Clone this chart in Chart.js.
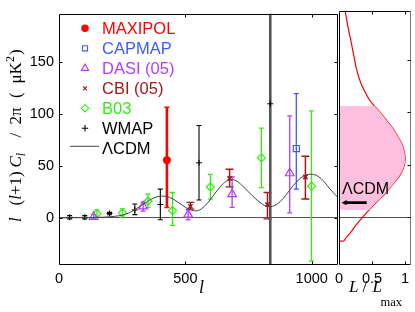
<!DOCTYPE html>
<html><head><meta charset="utf-8">
<script src="https://cdn.jsdelivr.net/npm/chart.js@4.4.1/dist/chart.umd.min.js"></script>
<style>
html,body{margin:0;padding:0;background:#fff;}
#wrap{position:relative;width:415px;height:312px;}
canvas{position:absolute;left:0;top:0;}
</style></head><body>
<div id="wrap"><canvas id="main" width="415" height="312"></canvas><canvas id="side" width="415" height="312"></canvas></div>
<script>
// ---------- data ----------
const xTicks = [0, 500, 1000];
const yTicks = [0, 50, 100, 150];
const lTicks = [0, 0.5, 1];
const xMax = 1104, yMin = -45.4, yMax = 196.5, lMax = 1.09;

const lcdmL = [0,50,100,150,200,225,250,275,300,325,350,375,400,425,450,475,500,525,550,575,600,625,650,675,700,725,750,775,800,825,850,875,900,925,950,975,1000,1025,1050,1075,1104];
const lcdmY = [0,0.1,0.2,0.4,1.0,1.6,2.6,4.6,7.8,11.8,15.8,19.2,20.8,20.6,18.3,14.3,10.2,7.3,7.0,11.0,18.0,26.0,33.0,36.5,35.8,31.0,25.0,19.0,14.0,11.0,11.5,15.5,22.5,30.5,37.0,41.0,42.0,40.0,34.5,27.0,19.5];

const maxipolL = [427], maxipolY = [55.5], maxipolLo = [10], maxipolHi = [106.5];
const capmapL = [939], capmapY = [66.7], capmapLo = [27.6], capmapHi = [119.6];
const dasiL = [137,333,511,685,913], dasiY = [1,11,3.1,22.8,42.9];
const dasiLo = [-1,6.5,-1.9,10.1,4.8], dasiHi = [3,15,7.6,39.3,98.1];
const cbiL = [520,675,825,975], cbiY = [11,38,12.7,39.3];
const cbiLo = [8.4,29.8,-1,18.1], cbiHi = [14.9,46.7,24.4,59.3];
const b03L = [150,251,352,449,599,801,999], b03Y = [4,4.8,16,7,29.8,57.7,30.5];
const b03Lo = [0.6,0.6,9.8,-7.3,18.1,29.1,-41.6], b03Hi = [7.6,8.6,22.9,24.4,41.9,86.3,102.9];
const wmapL = [42,102,200,300,401,554,836], wmapY = [0.6,0.6,4.2,7.6,12.8,53,109.8];
const wmapLo = [-1,-1,3,3.1,-1.9,17.1,-300], wmapHi = [2.2,2.2,5.3,13.3,27.6,88.9,400];

// likelihood of the EE amplitude (right panel)
const likeY = [-22.5,-22.5,-20,-14,-8,-2,4,10,16,22,28,34,40,46,54,62,70,78,86,94,101,106,112,120,128,140,151,165,180,196.5];
const likeL = [0,0.07,0.1,0.18,0.25,0.33,0.41,0.5,0.59,0.69,0.77,0.85,0.92,0.97,1.0,0.99,0.95,0.88,0.8,0.7,0.61,0.535,0.46,0.39,0.33];
likeL.push(0.27,0.233,0.19,0.14,0.093);
const pinkY = [7,10,16,22,28,34,40,46,54,62,70,78,86,94,101,106];
const pinkL = [0.46,0.5,0.59,0.69,0.77,0.85,0.92,0.97,1.0,0.99,0.95,0.88,0.8,0.7,0.61,0.535];
const lcdmMark = 14;           // LCDM amplitude marked by arrow
const arrowFrom = 0.42, arrowTo = 0.04;

// ---------- helpers ----------
const pts = (xs, ys) => xs.map((x, i) => ({x, y: ys[i]}));
const SANS = '"Liberation Sans", Arial, sans-serif';
const SERIF = '"Liberation Serif", "Times New Roman", serif';

const series = [
  {label:'MAXIPOL', L:maxipolL, Y:maxipolY, lo:maxipolLo, hi:maxipolHi, color:'#ff0000', style:'circle', r:3.6, filled:true, bw:1, barW:2.6, cap:2.5, lr:3.2},
  {label:'CAPMAP', L:capmapL, Y:capmapY, lo:capmapLo, hi:capmapHi, color:'#3c5aff', style:'rect', r:4.3, bw:1.2, barW:1.3, cap:2.5, lr:3.6},
  {label:'DASI (05)', L:dasiL, Y:dasiY, lo:dasiLo, hi:dasiHi, color:'#b43cff', style:'triangle', r:5, bw:1.2, barW:1.3, cap:2.5, lr:4.2},
  {label:'CBI (05)', L:cbiL, Y:cbiY, lo:cbiLo, hi:cbiHi, color:'#a31818', style:'crossRot', r:3, bw:1.6, barW:1.5, cap:4, lr:2.8},
  {label:'B03', L:b03L, Y:b03Y, lo:b03Lo, hi:b03Hi, color:'#33ee11', style:'rectRot', r:4, bw:1.2, barW:1.3, cap:2.5, lr:3.6},
  {label:'WMAP', L:wmapL, Y:wmapY, lo:wmapLo, hi:wmapHi, color:'#000000', style:'cross', r:3, bw:1, barW:1.1, cap:2.5, lr:3.2}
];

function drawMarker(ctx, style, x, y, r, filled){
  ctx.beginPath();
  if (style === 'circle') { ctx.arc(x, y, r, 0, Math.PI*2); if (filled) ctx.fill(); ctx.stroke(); return; }
  if (style === 'rect') { const s = r*0.707; ctx.rect(x-s, y-s, 2*s, 2*s); }
  else if (style === 'rectRot') { ctx.moveTo(x-r,y); ctx.lineTo(x,y-r); ctx.lineTo(x+r,y); ctx.lineTo(x,y+r); ctx.closePath(); }
  else if (style === 'triangle') { for (let k=0;k<3;k++){ const a=k*2*Math.PI/3; const px=x+Math.sin(a)*r, py=y-Math.cos(a)*r; if(k) ctx.lineTo(px,py); else ctx.moveTo(px,py);} ctx.closePath(); }
  else if (style === 'cross') { ctx.moveTo(x-r,y); ctx.lineTo(x+r,y); ctx.moveTo(x,y-r); ctx.lineTo(x,y+r); }
  else if (style === 'crossRot') { const d=r*0.707; ctx.moveTo(x-d,y-d); ctx.lineTo(x+d,y+d); ctx.moveTo(x+d,y-d); ctx.lineTo(x-d,y+d); }
  ctx.stroke();
}

function drawSeq(ctx, x, y, parts){
  let cx = x;
  parts.forEach(p => { ctx.font = p[1]; ctx.fillText(p[0], cx, y + (p[2]||0)); cx += ctx.measureText(p[0]).width; });
}

// ---------- plugins ----------
const errorBarPlugin = {
  id: 'errbars',
  beforeDatasetsDraw(chart) {
    const {ctx, chartArea:a, scales:{x, y}} = chart;
    ctx.save();
    ctx.beginPath(); ctx.rect(a.left, a.top, a.right-a.left, a.bottom-a.top); ctx.clip();
    chart.data.datasets.forEach(ds => {
      if (!ds.errLo) return;
      ds.data.forEach((p, j) => {
        const wide = (ds.errHi[j] - ds.errLo[j]) > (yMax - yMin);
        ctx.strokeStyle = wide ? '#555' : ds.borderColor;
        ctx.lineWidth = wide ? 2.6 : ds.barW;
        const px = x.getPixelForValue(p.x);
        const yl = y.getPixelForValue(ds.errLo[j]);
        const yh = y.getPixelForValue(ds.errHi[j]);
        ctx.beginPath();
        ctx.moveTo(px, yl); ctx.lineTo(px, yh);
        ctx.stroke();
        ctx.lineWidth = Math.min(ds.barW, 1.4);
        ctx.beginPath();
        ctx.moveTo(px-ds.cap, yl); ctx.lineTo(px+ds.cap, yl);
        ctx.moveTo(px-ds.cap, yh); ctx.lineTo(px+ds.cap, yh);
        ctx.stroke();
      });
    });
    ctx.restore();
  }
};

const framePlugin = {
  id: 'frame',
  afterDatasetsDraw(chart, args, o) {
    const {ctx, chartArea:a, scales} = chart;
    const L = Math.round(a.left)+0.5, R = Math.round(a.right)-0.5, T = Math.round(a.top)+0.5, B = Math.round(a.bottom)-0.5;
    ctx.save();
    ctx.lineWidth = 1; ctx.strokeStyle = '#000';
    ctx.beginPath(); ctx.moveTo(L,B); ctx.lineTo(L,T); ctx.lineTo(R,T); ctx.moveTo(L,B); ctx.lineTo(R,B); ctx.stroke();
    ctx.strokeStyle = o.rightColor || '#000';
    ctx.beginPath(); ctx.moveTo(R,T); ctx.lineTo(R,B); ctx.stroke();
    ctx.strokeStyle = '#000';
    const tl = 3;
    ctx.beginPath();
    scales.x.ticks.forEach(t => {
      const px = Math.round(scales.x.getPixelForValue(t.value)) + 0.5;
      if (px <= L+1 || px >= R-1) return;
      ctx.moveTo(px,B); ctx.lineTo(px,B-tl); ctx.moveTo(px,T); ctx.lineTo(px,T+tl);
    });
    yTicks.forEach(v => {
      const py = Math.round(scales.y.getPixelForValue(v)) + 0.5;
      if (o.yLeft) { ctx.moveTo(L,py); ctx.lineTo(L+tl,py); }
      if (o.yRight) { ctx.moveTo(R,py); ctx.lineTo(R-tl,py); }
    });
    ctx.stroke();
    ctx.restore();
  }
};

const legendPlugin = {
  id: 'customLegend',
  afterDraw(chart) {
    const ctx = chart.ctx;
    ctx.save();
    const mx = 85, tx = 102, y0 = 28.3, dy = 20;
    series.forEach((s, i) => {
      const cy = y0 + i*dy;
      ctx.strokeStyle = s.color; ctx.fillStyle = s.color; ctx.lineWidth = 1.1;
      drawMarker(ctx, s.style, mx, cy, s.lr, s.filled);
      ctx.font = '16.5px ' + SANS; ctx.textBaseline = 'alphabetic'; ctx.textAlign = 'left';
      ctx.fillText(s.label, tx, cy + 6);
    });
    const cy = y0 + 6*dy;
    ctx.strokeStyle = '#444'; ctx.lineWidth = 1;
    ctx.beginPath(); ctx.moveTo(70, cy - 2); ctx.lineTo(99, cy - 2); ctx.stroke();
    ctx.fillStyle = '#000'; ctx.font = '16.5px ' + SANS;
    ctx.fillText('\u039BCDM', tx, cy + 6);
    ctx.restore();
  }
};

const mainTitles = {
  id: 'mainTitles',
  afterDraw(chart) {
    const ctx = chart.ctx;
    const it = 'italic 17px ' + SERIF, up = '17px ' + SERIF, sm = 'italic 12px ' + SERIF, smu = '12px ' + SERIF;
    ctx.save();
    ctx.fillStyle = '#000'; ctx.textBaseline = 'alphabetic'; ctx.textAlign = 'left';
    // x title
    ctx.font = 'italic 18px ' + SERIF;
    ctx.textAlign = 'center';
    ctx.fillText('l', 201.5, 293);
    ctx.textAlign = 'left';
    // y title (rotated)
    ctx.translate(20.5, 134.5);
    ctx.rotate(-Math.PI/2);
    drawSeq(ctx, -87.5, 0, [['l', it]]);
    drawSeq(ctx, -71, 0, [['(', up], ['l', it], ['+1)', up]]);
    drawSeq(ctx, -33, 0, [['C', it], ['l', sm, 4]]);
    drawSeq(ctx, -3, 0, [['/', up]]);
    drawSeq(ctx, 10, 0, [['2\u03C0', up]]);
    drawSeq(ctx, 36.5, 0, [['(', up]]);
    drawSeq(ctx, 51, 0, [['\u03BCK', up], ['2', smu, -7]]);
    drawSeq(ctx, 79.5, 0, [[')', up]]);
    ctx.restore();
  }
};

const sideAnno = {
  id: 'sideAnno',
  afterDatasetsDraw(chart) {
    const {ctx, scales:{x, y}} = chart;
    ctx.save();
    const py = y.getPixelForValue(lcdmMark);
    const x0 = x.getPixelForValue(arrowFrom), x1 = x.getPixelForValue(arrowTo);
    ctx.strokeStyle = '#000'; ctx.fillStyle = '#000'; ctx.lineWidth = 2.7;
    ctx.beginPath(); ctx.moveTo(x0, py); ctx.lineTo(x1 + 4, py); ctx.stroke();
    ctx.beginPath(); ctx.moveTo(x1, py); ctx.lineTo(x1 + 5, py - 2.6); ctx.lineTo(x1 + 5, py + 2.6); ctx.closePath(); ctx.fill();
    ctx.font = '16px ' + SANS; ctx.textAlign = 'left'; ctx.textBaseline = 'alphabetic';
    ctx.fillText('\u039BCDM', x.getPixelForValue(0.045), y.getPixelForValue(22.5));
    // x title L / L_max
    ctx.font = 'italic 17px ' + SERIF;
    ctx.fillText('L', 349, 291.7);
    ctx.font = '17px ' + SERIF;
    ctx.fillText('/', 362.5, 291.7);
    ctx.font = 'italic 17px ' + SERIF;
    ctx.fillText('L', 372.5, 291.7);
    ctx.font = '12.5px ' + SERIF;
    ctx.fillText('max', 380.5, 305.5);
    ctx.restore();
  }
};

const tickFont = {family: SANS, size: 14.5};
const zeroGrid = {drawTicks: false, lineWidth: 1, color: c => (c.tick && c.tick.value === 0) ? '#555' : 'rgba(0,0,0,0)'};

// ---------- main chart ----------
const mainDatasets = [
  {label:'\u039BCDM', type:'line', data: pts(lcdmL, lcdmY), borderColor:'#444', borderWidth:1, pointRadius:0, tension:0.35, fill:false}
].concat(series.map(s => ({
  label: s.label, data: pts(s.L, s.Y), errLo: s.lo, errHi: s.hi, barW: s.barW, cap: s.cap,
  pointStyle: s.style, pointRadius: s.r, borderColor: s.color, borderWidth: s.bw,
  backgroundColor: s.filled ? s.color : 'rgba(0,0,0,0)'
})));

new Chart(document.getElementById('main'), {
  type: 'scatter',
  data: {datasets: mainDatasets},
  options: {
    responsive: false, animation: false, devicePixelRatio: 1,
    layout: {padding: {left: 0, right: 77, top: 11, bottom: 0}},
    plugins: {legend: {display: false}, tooltip: {enabled: false}, frame: {yLeft: true, yRight: true}},
    scales: {
      x: {type:'linear', min:0, max:xMax,
          afterFit(s){ s.height = 47; },
          afterBuildTicks(s){ s.ticks = xTicks.map(v => ({value: v})); },
          grid: {display:false, drawTicks:false}, border: {display:false},
          ticks: {font: tickFont, color:'#000', padding:5, maxRotation:0, autoSkip:false, callback: v => String(v)}},
      y: {type:'linear', min:yMin, max:yMax,
          afterFit(s){ s.width = 59; },
          afterBuildTicks(s){ s.ticks = yTicks.map(v => ({value: v})); },
          grid: zeroGrid, border: {display:false},
          ticks: {font: tickFont, color:'#000', padding:5, autoSkip:false, callback: v => String(v)}}
    }
  },
  plugins: [errorBarPlugin, framePlugin, legendPlugin, mainTitles]
});

// ---------- side (likelihood) chart ----------
new Chart(document.getElementById('side'), {
  type: 'line',
  data: {datasets: [
    {label:'range', data: pts(pinkL, pinkY), fill:'origin', backgroundColor:'#ffc0e0', borderWidth:0, borderColor:'rgba(0,0,0,0)', pointRadius:0, tension:0.3},
    {label:'likelihood', data: pts(likeL, likeY), fill:false, borderColor:'#ff0000', borderWidth:1.2, pointRadius:0, tension:0.3}
  ]},
  options: {
    indexAxis: 'y',
    responsive: false, animation: false, devicePixelRatio: 1,
    layout: {padding: {left: 339, right: 4, top: 11, bottom: 0}},
    plugins: {legend: {display: false}, tooltip: {enabled: false}, frame: {yRight: true, rightColor: '#777'}},
    scales: {
      x: {type:'linear', min:0, max:lMax, position:'bottom',
          afterFit(s){ s.height = 47; },
          afterBuildTicks(s){ s.ticks = lTicks.map(v => ({value: v})); },
          grid: {display:false, drawTicks:false}, border: {display:false},
          ticks: {font: tickFont, color:'#000', padding:5, maxRotation:0, autoSkip:false, callback: v => String(v)}},
      y: {type:'linear', min:yMin, max:yMax, position:'left',
          afterFit(s){ s.width = 0; },
          afterBuildTicks(s){ s.ticks = yTicks.map(v => ({value: v})); },
          grid: zeroGrid, border: {display:false},
          ticks: {display:false}}
    }
  },
  plugins: [framePlugin, sideAnno]
});
</script>
</body></html>
